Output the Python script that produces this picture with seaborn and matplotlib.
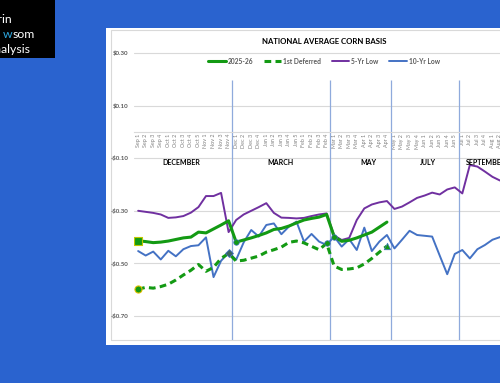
import numpy as np
import pandas as pd
import matplotlib.pyplot as plt
from matplotlib.patches import Rectangle
import seaborn as sns

# === DATA (weekly basis, $/bu)
weeks = ["Sep 1", "Sep 2", "Sep 3", "Sep 4",
         "Oct 1", "Oct 2", "Oct 3", "Oct 4", "Oct 5",
         "Nov 1", "Nov 2", "Nov 3", "Nov 4",
         "Dec 1", "Dec 2", "Dec 3", "Dec 4",
         "Jan 1", "Jan 2", "Jan 3", "Jan 4", "Jan 5",
         "Feb 1", "Feb 2", "Feb 3", "Feb 4",
         "Mar 1", "Mar 2", "Mar 3", "Mar 4",
         "Apr 1", "Apr 2", "Apr 3", "Apr 4",
         "May 1", "May 2", "May 3", "May 4",
         "Jun 1", "Jun 2", "Jun 3", "Jun 4", "Jun 5",
         "Jul 1", "Jul 2", "Jul 3", "Jul 4",
         "Aug 1", "Aug 2"]

current = [-0.414, -0.417, -0.421, -0.419, -0.415, -0.409, -0.403, -0.400, -0.381,
           -0.384, -0.369, -0.354, -0.338, -0.419, -0.411, -0.403, -0.394, -0.384,
           -0.371, -0.367, -0.358, -0.346, -0.335, -0.329, -0.324, -0.314, -0.398,
           -0.416, -0.412, -0.403, -0.392, -0.381, -0.362, -0.343]

deferred = [-0.598, -0.591, -0.594, -0.588, -0.579, -0.563, -0.544, -0.526, -0.504,
            -0.530, -0.515, -0.481, -0.462, -0.491, -0.488, -0.480, -0.472, -0.457,
            -0.448, -0.438, -0.420, -0.415, -0.422, -0.435, -0.448, -0.424, -0.510,
            -0.523, -0.521, -0.517, -0.502, -0.481, -0.457, -0.434]

five_yr = [-0.300, -0.304, -0.308, -0.314, -0.327, -0.325, -0.320, -0.307, -0.286,
           -0.244, -0.244, -0.232, -0.381, -0.335, -0.314, -0.300, -0.286, -0.271,
           -0.308, -0.326, -0.327, -0.329, -0.327, -0.320, -0.314, -0.310, -0.394,
           -0.411, -0.403, -0.335, -0.291, -0.276, -0.268, -0.263, -0.293, -0.284,
           -0.268, -0.251, -0.242, -0.231, -0.238, -0.219, -0.211, -0.234, -0.126,
           -0.132, -0.151, -0.171, -0.185]

ten_yr = [-0.453, -0.470, -0.455, -0.485, -0.452, -0.473, -0.446, -0.434, -0.431,
          -0.401, -0.552, -0.490, -0.459, -0.486, -0.420, -0.373, -0.398, -0.354,
          -0.348, -0.389, -0.360, -0.341, -0.417, -0.388, -0.417, -0.430, -0.398,
          -0.436, -0.408, -0.449, -0.364, -0.453, -0.417, -0.392, -0.443, -0.410,
          -0.376, -0.392, -0.395, -0.398, -0.470, -0.541, -0.464, -0.449, -0.481,
          -0.446, -0.430, -0.410, -0.400]

months = ["DECEMBER", "MARCH", "MAY", "JULY", "SEPTEMBER"]
month_pos = [5.7, 18.9, 30.6, 38.4, 46.2]
roll_weeks = [12.5, 25.5, 33.5, 42.5]

yticks = [0.30, 0.10, -0.10, -0.30, -0.50, -0.70]
ylabels = ["$0.30", "$0.10", "-$0.10", "-$0.30", "-$0.50", "-$0.70"]

# === COLORS
GREEN = "#139A13"
PURPLE = "#7030A0"
BLUE = "#4472C4"
GRID = "#D9D9D9"
TXT = "#595959"

n = len(weeks)
pad = [np.nan] * (n - len(current))
df = pd.DataFrame({
    "idx": np.arange(n),
    "current": current + pad,
    "deferred": deferred + pad,
    "five": five_yr,
    "ten": ten_yr,
})

sns.set_style("white")
plt.rcParams['font.family'] = ['Lato', 'DejaVu Sans']

W, H = 500, 383
fig = plt.figure(figsize=(W / 100, H / 100), dpi=100)
fig.patch.set_facecolor("#2A63CF")


def fx(px):
    return px / W


def fy(py):
    return 1 - py / H


# === white chart panel + inner frame (behind the axes)
fig.add_artist(Rectangle((fx(106), fy(345)), fx(400), fy(28) - fy(345), zorder=-10,
                         transform=fig.transFigure, facecolor="white", edgecolor="none"))
fig.add_artist(Rectangle((fx(111), fy(340)), fx(400), fy(30) - fy(340), zorder=-9,
                         transform=fig.transFigure, facecolor="none", edgecolor=GRID, lw=0.8))

# === logo box (cropped)
fig.add_artist(Rectangle((0, fy(58)), fx(55), 1 - fy(58), zorder=-10,
                         transform=fig.transFigure, facecolor="black", edgecolor="none"))
fig.text(fx(12), fy(23), "Darin", ha="right", va="baseline", color="white", fontsize=8.8)
fig.text(fx(12.5), fy(38), "w", ha="right", va="baseline", color="#2EA8E0", fontsize=8.8)
fig.text(fx(12.5), fy(38), "som", ha="left", va="baseline", color="white", fontsize=8.8)
fig.text(fx(31), fy(53), "Analysis", ha="right", va="baseline", color="white", fontsize=8.8)

ax = fig.add_axes([fx(134), fy(340), fx(366), fy(50) - fy(340)])
ax.set_facecolor("none")
ax.set_zorder(5)

sns.lineplot(data=df, x="idx", y="current", ax=ax, color=GREEN, lw=2.2, label="2025-26", zorder=4)
sns.lineplot(data=df, x="idx", y="deferred", ax=ax, color=GREEN, lw=2.2, label="1st Deferred", zorder=4)
ax.lines[-1].set_dashes([2.2, 1.4])
sns.lineplot(data=df, x="idx", y="five", ax=ax, color=PURPLE, lw=1.4, label="5-Yr Low", zorder=3)
sns.lineplot(data=df, x="idx", y="ten", ax=ax, color=BLUE, lw=1.4, label="10-Yr Low", zorder=3)

# === point markers on the current/deferred series
ax.scatter([0], [current[0]], marker="s", s=40, color=GREEN, edgecolor="#BFC800", lw=0.8, zorder=6)
ax.scatter([0], [deferred[0]], marker="o", s=26, color=GREEN, edgecolor="#E0C000", lw=0.8, zorder=6)
ax.scatter([12], [deferred[12]], marker="D", s=16, color="#3B6460", edgecolor=BLUE, lw=0.6, zorder=6)
ax.scatter([13, 26], [current[13], current[26]], marker="o", s=16, color=GREEN,
           edgecolor=BLUE, lw=0.5, zorder=6)
ax.scatter([25], [deferred[25]], marker="o", s=16, color=GREEN, edgecolor=BLUE, lw=0.5, zorder=6)
ax.scatter([33], [deferred[33]], marker="^", s=22, color=GREEN, edgecolor=BLUE, lw=0.5, zorder=6)

# === roll lines between contract months
ax.vlines(roll_weeks, -0.80, 0.197, color="#8FAADC", lw=0.9, zorder=2)

for name, pos in zip(months, month_pos):
    ax.text(pos, -0.118, name, ha="center", va="center", fontsize=5, fontweight="bold",
            color="black", zorder=7)

# === axes: category axis crosses at zero (set before labels, it resets ticks)
for side in ["left", "right", "top"]:
    ax.spines[side].set_visible(False)
ax.spines["bottom"].set_position(("data", 0))
ax.spines["bottom"].set_color(GRID)
ax.spines["bottom"].set_linewidth(0.8)

ax.set_xlim(-0.55, 47.2)
ax.set_ylim(-0.791, 0.311)
ax.set_yticks(yticks)
ax.set_yticklabels(ylabels)
ax.set_xticks(df["idx"])
ax.set_xticklabels(weeks)
ax.tick_params(axis="both", length=0)
ax.tick_params(axis="y", pad=4, labelsize=4.4, labelcolor=TXT)
ax.tick_params(axis="x", pad=1.5, labelsize=3.9, labelcolor="#7F7F7F", labelrotation=90)
for t in ax.get_yticklabels():
    t.set_fontweight("bold")
ax.yaxis.grid(True, color=GRID, lw=0.8)
ax.set_axisbelow(True)
ax.set_xlabel("")
ax.set_ylabel("")

leg = ax.legend(ncol=4, loc="center", bbox_to_anchor=(fx(324), fy(61)), bbox_transform=fig.transFigure,
                frameon=False, fontsize=4.8, handlelength=2.6, handletextpad=0.3, columnspacing=1.6)
for t in leg.get_texts():
    t.set_color(TXT)
    t.set_fontweight("bold")

fig.text(fx(324), fy(41), "NATIONAL AVERAGE CORN BASIS", ha="center", va="center",
         fontsize=5.6, fontweight="bold", color="black")

fig.savefig("out.png", dpi=100, facecolor=fig.get_facecolor())
